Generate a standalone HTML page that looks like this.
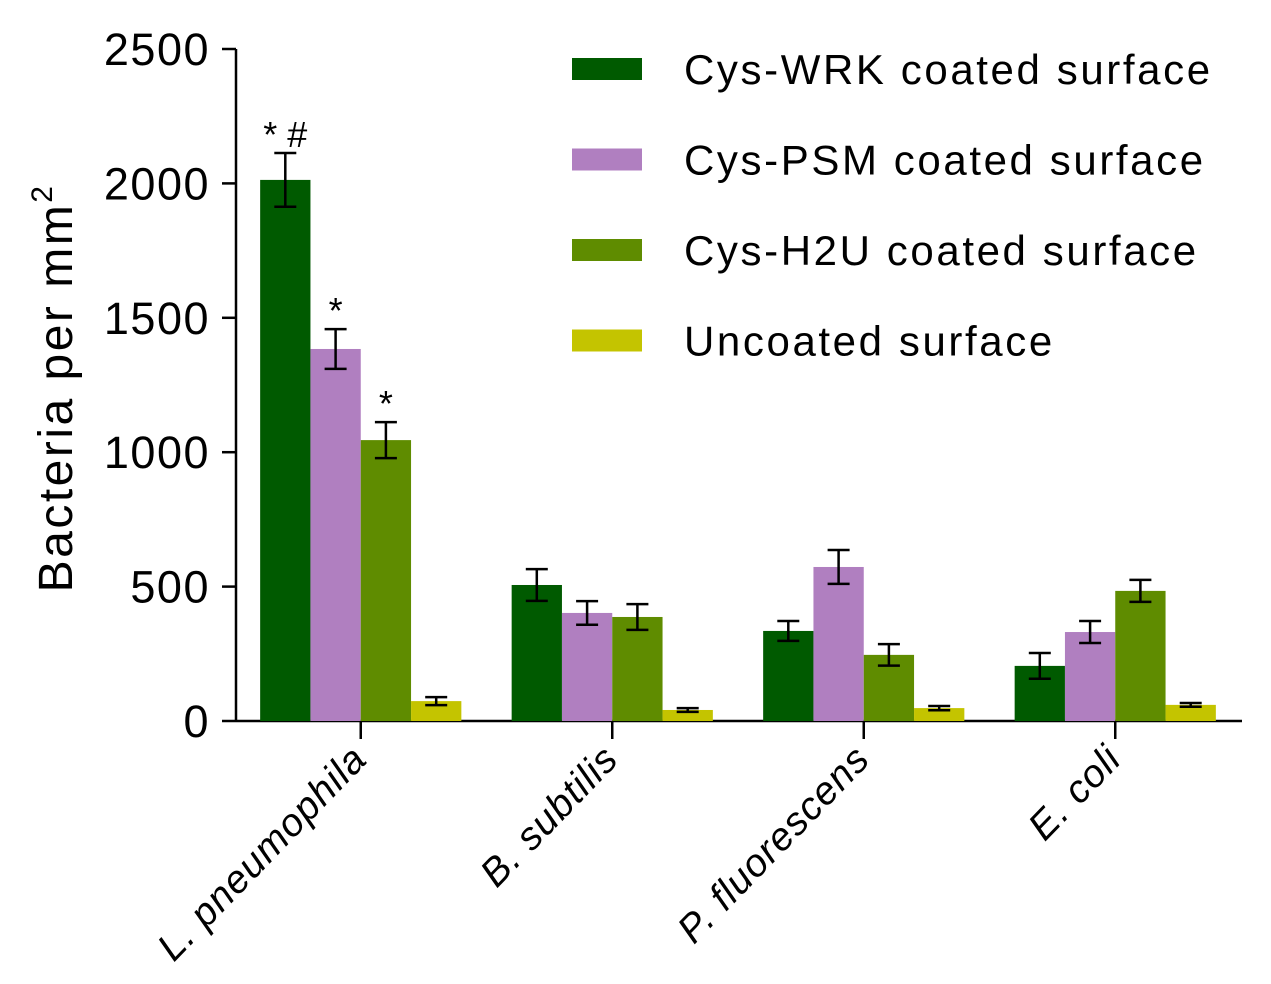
<!DOCTYPE html>
<html><head><meta charset="utf-8"><style>
body{margin:0;background:#fff}
svg{display:block;font-family:"Liberation Sans",sans-serif}
</style></head><body>
<svg id="chart" width="1271" height="984">
<g id="axes"></g>
<g id="bars"></g>
<g id="legend"></g>
<text transform="translate(72,388) rotate(-90)" text-anchor="middle" font-size="48" letter-spacing="2.5" fill="#000">Bacteria per mm<tspan font-size="30" dy="-20">2</tspan></text>
</svg>
<script>
const categories=["L. pneumophila","B. subtilis","P. fluorescens","E. coli"];
const seriesNames=["Cys-WRK coated surface","Cys-PSM coated surface","Cys-H2U coated surface","Uncoated surface"];
const colors=["#005a00","#b07fc0","#5f8c00","#c4c400"];
const wrk=[2013,506,335,205];
const psm=[1384,402,573,331];
const h2u=[1045,387,246,484];
const unc=[74,41,48,60];
const wrkErr=[100,59,37,48];
const psmErr=[74,44,63,41];
const h2uErr=[67,48,40,41];
const uncErr=[15,7,8,7];
const yTicks=[0,500,1000,1500,2000,2500];
const annotations=[["* #",0,0],["*",0,1],["*",0,2]];
const series=[wrk,psm,h2u,unc], errs=[wrkErr,psmErr,h2uErr,uncErr];
const NS="http://www.w3.org/2000/svg";
const x0=236,x1=1242,y0=721,yTop=49,yMax=2500;
const y=v=>y0-(y0-yTop)*v/yMax;
const groupW=(x1-x0)/categories.length;
const cx=i=>x0+groupW*(i+0.5)-1;
const bw=50.3;
function mk(p,t,a){const e=document.createElementNS(NS,t);for(const k in a)e.setAttribute(k,a[k]);p.appendChild(e);return e;}
const ax=document.getElementById('axes'),bg=document.getElementById('bars'),lg=document.getElementById('legend');
let l=mk(ax,'line',{x1:x0,y1:yTop,x2:x0,y2:y0,stroke:'#000','stroke-width':2.5});

l=mk(ax,'line',{x1:x0,y1:y0,x2:x1,y2:y0,stroke:'#000','stroke-width':2.5});

yTicks.forEach(v=>{
 const t=mk(ax,'line',{x1:x0-14,y1:y(v),x2:x0,y2:y(v),stroke:'#000','stroke-width':2.5});
 
 const tx=mk(ax,'text',{x:x0-26,y:y(v)+16,'text-anchor':'end','font-size':45,'letter-spacing':1.5});
 tx.textContent=v;
 
});
categories.forEach((c,i)=>{
 const t=mk(ax,'line',{x1:cx(i),y1:y0,x2:cx(i),y2:y0+18,stroke:'#000','stroke-width':2.5});
 
 const tx=mk(ax,'text',{transform:`translate(${cx(i)+8},${y0+40}) rotate(-46)`,'text-anchor':'end','font-size':39,'font-style':'italic','letter-spacing':1});
 tx.textContent=c;
 
});
series.forEach((s,j)=>{
 s.forEach((v,i)=>{
  const bx=cx(i)-2*bw+j*bw;
  const r=mk(bg,'rect',{x:bx,y:y(v),width:bw,height:y0-y(v),fill:colors[j]});
  
  const m=bx+bw/2,e=errs[j][i];
  const p=mk(bg,'path',{d:`M${m},${y(v+e)}V${y(v-e)}M${m-11},${y(v+e)}H${m+11}M${m-11},${y(v-e)}H${m+11}`,stroke:'#000','stroke-width':2.5,fill:'none'});
  
 });
});
annotations.forEach(a=>{
 const [txt,i,j]=a;const v=series[j][i]+errs[j][i];
 const t=mk(bg,'text',{x:cx(i)-2*bw+j*bw+bw/2,y:y(v)-6,'text-anchor':'middle','font-size':36});
 t.textContent=txt;
 
});
seriesNames.forEach((n,j)=>{
 const yy=69+j*90.5;
 const r=mk(lg,'rect',{x:572,y:yy-11,width:70,height:22,fill:colors[j]});
 
 const t=mk(lg,'text',{x:684,y:yy+15,'font-size':42,'letter-spacing':2.6});
 t.textContent=n;
 
});
</script>
</body></html>
